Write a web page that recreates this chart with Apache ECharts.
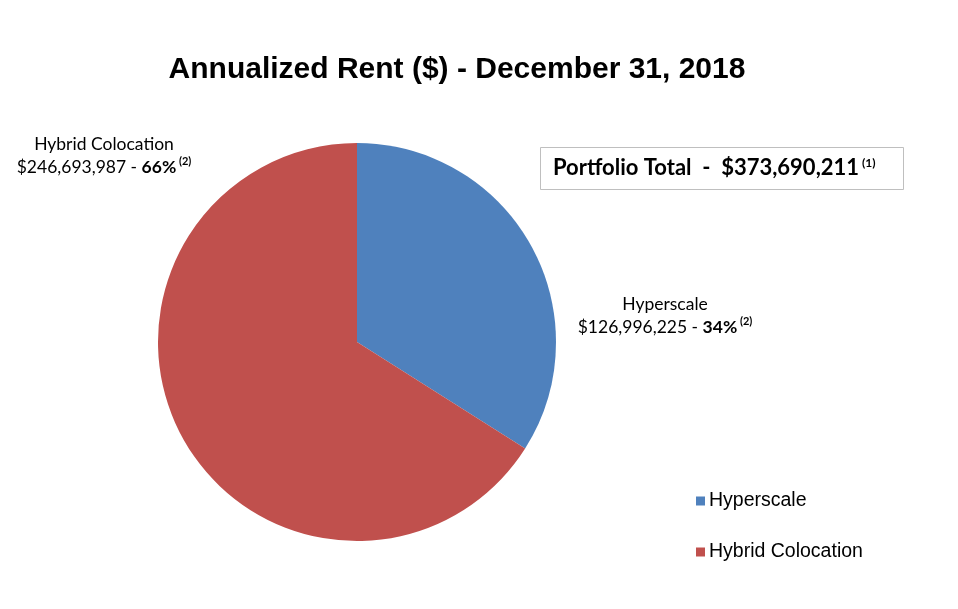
<!DOCTYPE html>
<html><head><meta charset="utf-8">
<script src="https://cdn.jsdelivr.net/npm/echarts@6/dist/echarts.min.js"></script>
<style>html,body{margin:0;padding:0;background:#fff}#c{width:958px;height:609px}</style>
</head><body><div id="c"></div>
<script>
const categories = ['Hyperscale', 'Hybrid Colocation'];
const values = [126996225, 246693987];
const percents = ['34%', '66%'];
const notes = ['(2)', '(2)'];
const totalText = '$373,690,211';
const colors = ['#4F81BD', '#C0504D'];

function fmt(n){ return '$' + String(n).replace(/\B(?=(\d{3})+(?!\d))/g, ','); }

const chart = echarts.init(document.getElementById('c'));
const labelFont = 'Lato, "Open Sans", sans-serif';
chart.setOption({
  animation: false,
  title: {
    text: 'Annualized Rent ($) - December 31, 2018',
    left: 452, top: 50, textAlign: 'center',
    textStyle: {fontFamily: '"Liberation Sans", Arial, sans-serif', fontWeight: 'bold', fontSize: 30, color: '#000'}
  },
  graphic: [{
    type: 'rect', shape: {x: 540.5, y: 147.5, width: 363, height: 42},
    style: {fill: '#fff', stroke: '#BFBFBF', lineWidth: 1}
  }, {
    type: 'text', x: 553, y: 168,
    style: {
      text: '{t|Portfolio Total  -  ' + totalText + '}{s| (1)}',
      verticalAlign: 'middle',
      rich: {
        t: {fontFamily: labelFont, fontWeight: 'bold', fontSize: 22, color: '#000'},
        s: {fontFamily: labelFont, fontWeight: 'bold', fontSize: 12, color: '#000', verticalAlign: 'top', padding: [0,0,10,0]}
      }
    }
  }],
  legend: {
    orient: 'vertical', left: 691, top: 486, itemGap: 31,
    itemWidth: 9, itemHeight: 9, icon: 'rect',
    textStyle: {fontFamily: '"Liberation Sans", Arial, sans-serif', fontSize: 19.5, color: '#000', padding: [0,0,0,-1]},
    data: categories
  },
  series: [{
    type: 'pie', center: [357, 342], radius: 199, startAngle: 90, clockwise: true,
    data: categories.map((c, i) => ({name: c, value: values[i], itemStyle: {color: colors[i]}})),
    labelLine: {show: false},
    label: {
      show: true, position: 'inside',
      formatter: p => '{n|' + p.name + '}\n{v|' + fmt(p.value) + ' - }{b|' + percents[p.dataIndex] + '}{s| ' + notes[p.dataIndex] + '}',
      align: 'center',
      rich: {
        n: {fontFamily: labelFont, fontSize: 17.5, color: '#000', lineHeight: 23, align: 'center'},
        v: {fontFamily: labelFont, fontSize: 17.5, color: '#000', lineHeight: 23},
        b: {fontFamily: labelFont, fontSize: 17.5, fontWeight: 'bold', color: '#000', lineHeight: 23},
        s: {fontFamily: labelFont, fontSize: 11, fontWeight: 'bold', color: '#000', lineHeight: 23, verticalAlign: 'top'}
      }
    },
    labelLayout: function(p){
      return p.dataIndex === 0 ? {x: 665, y: 316, align: 'center', verticalAlign: 'middle'}
                               : {x: 104, y: 156, align: 'center', verticalAlign: 'middle'};
    }
  }]
});
</script></body></html>
